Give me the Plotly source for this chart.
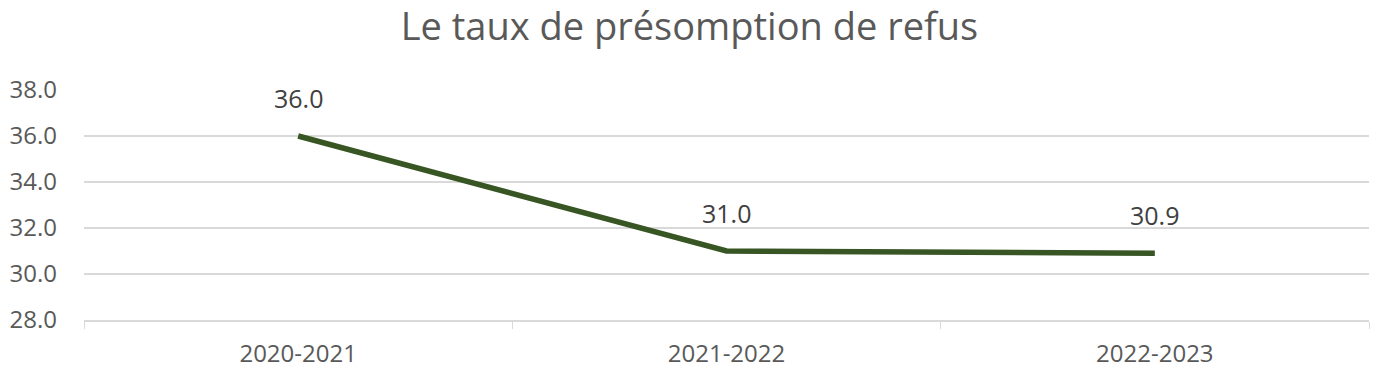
import plotly.graph_objects as go

categories = ["2020-2021", "2021-2022", "2022-2023"]
values = [36.0, 31.0, 30.9]
value_labels = ["36.0", "31.0", "30.9"]
y_ticks = [28, 30, 32, 34, 36, 38]

fig = go.Figure()
fig.add_trace(go.Scatter(
    x=categories, y=values, mode="lines",
    line=dict(color="#375623", width=5.5),
    hoverinfo="skip", showlegend=False,
))
for c, v, t in zip(categories, values, value_labels):
    fig.add_annotation(x=c, y=v, text=t, showarrow=False, yshift=38,
                       font=dict(size=25, color="#404040", family="Open Sans"))

fig.update_layout(
    width=1379, height=384,
    margin=dict(l=84, r=10, t=90, b=64),
    paper_bgcolor="white", plot_bgcolor="white",
    title=dict(text="Le taux de présomption de refus", x=0.5, xanchor="center",
               y=0.93, yanchor="middle",
               font=dict(size=38, color="#595959", family="Open Sans")),
    font=dict(family="Open Sans", color="#595959"),
)
fig.update_xaxes(
    type="category", range=[-0.5, 2.5], automargin=False,
    tickson="boundaries", ticks="outside", ticklen=7, tickcolor="#d9d9d9",
    showline=True, linecolor="#d9d9d9", linewidth=1.5,
    showgrid=False, tickfont=dict(size=24, color="#595959"),
    ticklabelstandoff=11,
)
fig.update_yaxes(
    range=[28, 38], tickvals=y_ticks, ticktext=[f"{t:.1f}" for t in y_ticks],
    automargin=False,
    showgrid=True, gridcolor="#d9d9d9", gridwidth=1.5, zeroline=False,
    showline=False, tickfont=dict(size=24, color="#595959"),
    ticklabelstandoff=26,
)
fig.write_html("out.html", config={"displayModeBar": False},
               post_script="document.body.style.margin='0';document.body.style.overflow='hidden';")
